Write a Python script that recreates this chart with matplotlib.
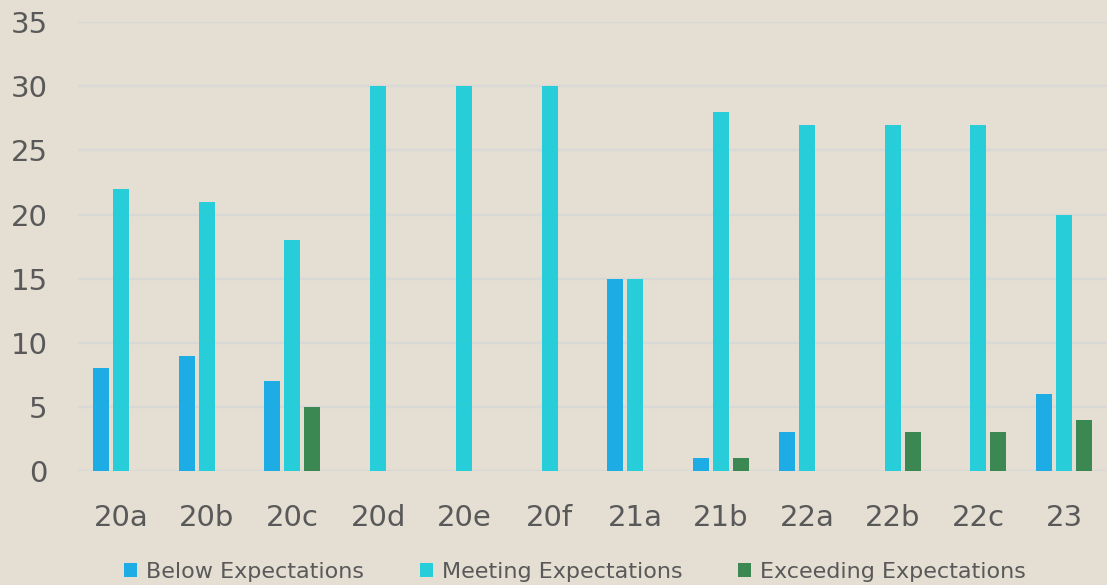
import numpy as np
import matplotlib.pyplot as plt

categories = ["20a", "20b", "20c", "20d", "20e", "20f", "21a", "21b", "22a", "22b", "22c", "23"]
below = [8, 9, 7, 0, 0, 0, 15, 1, 3, 0, 0, 6]
meeting = [22, 21, 18, 30, 30, 30, 15, 28, 27, 27, 27, 20]
exceeding = [0, 0, 5, 0, 0, 0, 0, 1, 0, 3, 3, 4]

bg = "#E4DED3"
txt = "#595959"
plt.rcParams["font.family"] = ["DejaVu Sans"]

fig = plt.figure(figsize=(11.07, 5.85), dpi=100, facecolor=bg)
ax = fig.add_axes([0.0705, 0.195, 0.9295, 0.767], facecolor=bg)

x = np.arange(len(categories))
w = 0.186
step = 0.233
ax.bar(x - step, below, w, color="#1EACE4", label="Below Expectations", zorder=3)
ax.bar(x, meeting, w, color="#27CDD8", label="Meeting Expectations", zorder=3)
ax.bar(x + step, exceeding, w, color="#3B8852", label="Exceeding Expectations", zorder=3)

ax.set_xlim(-0.5, len(categories) - 0.5)
ax.set_ylim(0, 35)
ax.set_yticks(range(0, 36, 5))
ax.set_xticks(x)
ax.set_xticklabels(categories)
ax.grid(axis="y", color="#D8D8D6", linewidth=1.6, zorder=0)
ax.set_axisbelow(True)
for s in ax.spines.values():
    s.set_visible(False)
ax.tick_params(length=0, labelsize=21, labelcolor=txt)
ax.tick_params(axis="x", pad=24)
ax.tick_params(axis="y", pad=22)

ax.legend(loc="upper center", bbox_to_anchor=(0.483, -0.158), ncol=3, frameon=False,
          fontsize=16, labelcolor=txt, handlelength=0.6, handleheight=0.6,
          handletextpad=0.4, columnspacing=2.5)

fig.savefig("out.png", dpi=100, facecolor=bg)
